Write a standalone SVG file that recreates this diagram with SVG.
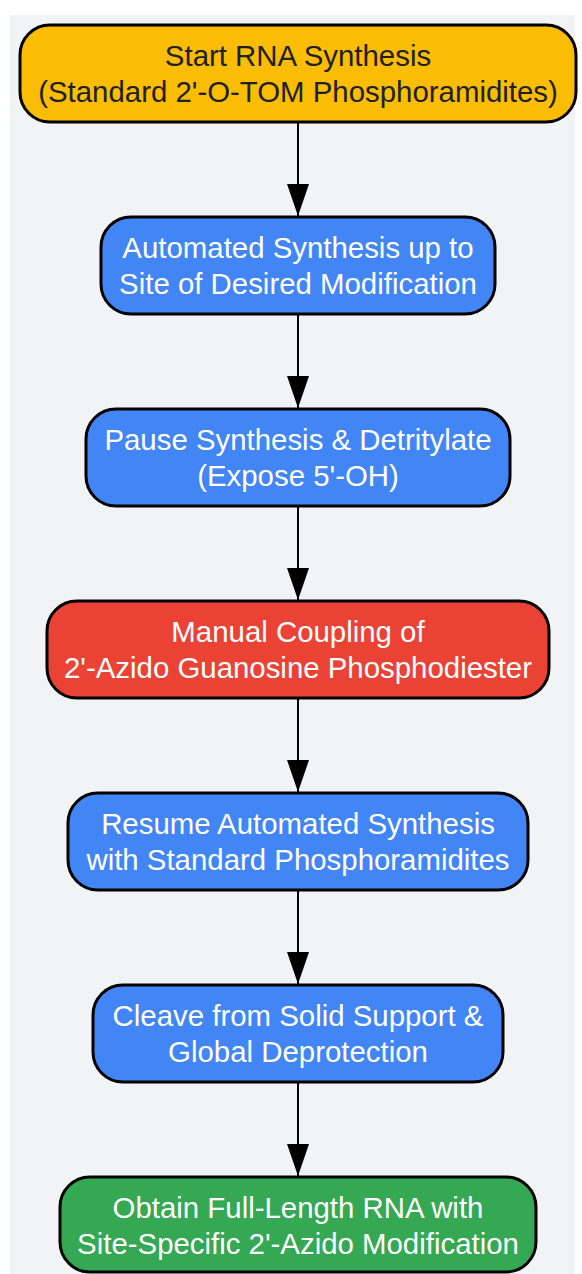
<svg xmlns="http://www.w3.org/2000/svg" width="582" height="1274" viewBox="0 0 582 1274">
<style>
.node rect{stroke:#000;stroke-width:3}
.t{font-family:"Liberation Sans",Arial,sans-serif;font-size:29.4px;text-anchor:middle}
.w{fill:#fff}
.d{fill:#202124}
.edge{stroke:#000;stroke-width:2;fill:none}
</style>
<defs>
<marker id="ah" markerWidth="32" markerHeight="22" refX="32" refY="11" orient="auto" markerUnits="userSpaceOnUse" viewBox="0 0 32 22">
<path d="M0,0 L32,11 L0,22 Z" fill="#000"/>
</marker>
</defs>
<rect x="10" y="15" width="565" height="1259" fill="#F1F3F4"/>
<g id="connectors">
<line class="edge" x1="298" y1="122" x2="298" y2="216" marker-end="url(#ah)"/>
<line class="edge" x1="298" y1="314" x2="298" y2="408" marker-end="url(#ah)"/>
<line class="edge" x1="298" y1="506" x2="298" y2="600" marker-end="url(#ah)"/>
<line class="edge" x1="298" y1="698" x2="298" y2="792" marker-end="url(#ah)"/>
<line class="edge" x1="298" y1="890" x2="298" y2="984" marker-end="url(#ah)"/>
<line class="edge" x1="298" y1="1082" x2="298" y2="1176" marker-end="url(#ah)"/>
</g>
<g id="n1" class="node">
<rect x="20" y="25" width="556" height="97" rx="30" fill="#FBBC04"/>
<text class="t d" x="298" y="66">Start RNA Synthesis</text>
<text class="t d" x="298" y="102">(Standard 2'-O-TOM Phosphoramidites)</text>
</g>
<g id="n2" class="node">
<rect x="101" y="217" width="394" height="97" rx="30" fill="#4285F4"/>
<text class="t w" x="298" y="258">Automated Synthesis up to</text>
<text class="t w" x="298" y="294">Site of Desired Modification</text>
</g>
<g id="n3" class="node">
<rect x="86" y="409" width="424" height="97" rx="30" fill="#4285F4"/>
<text class="t w" x="298" y="450">Pause Synthesis &amp; Detritylate</text>
<text class="t w" x="298" y="486">(Expose 5'-OH)</text>
</g>
<g id="n4" class="node">
<rect x="47" y="601" width="502" height="97" rx="30" fill="#EA4335"/>
<text class="t w" x="298" y="642">Manual Coupling of</text>
<text class="t w" x="298" y="678">2'-Azido Guanosine Phosphodiester</text>
</g>
<g id="n5" class="node">
<rect x="68" y="793" width="460" height="97" rx="30" fill="#4285F4"/>
<text class="t w" x="298" y="834">Resume Automated Synthesis</text>
<text class="t w" x="298" y="870">with Standard Phosphoramidites</text>
</g>
<g id="n6" class="node">
<rect x="93" y="985" width="410" height="97" rx="30" fill="#4285F4"/>
<text class="t w" x="298" y="1026">Cleave from Solid Support &amp;</text>
<text class="t w" x="298" y="1062">Global Deprotection</text>
</g>
<g id="n7" class="node">
<rect x="60" y="1177" width="476" height="95" rx="30" fill="#34A853"/>
<text class="t w" x="298" y="1218">Obtain Full-Length RNA with</text>
<text class="t w" x="298" y="1254">Site-Specific 2'-Azido Modification</text>
</g>
</svg>
